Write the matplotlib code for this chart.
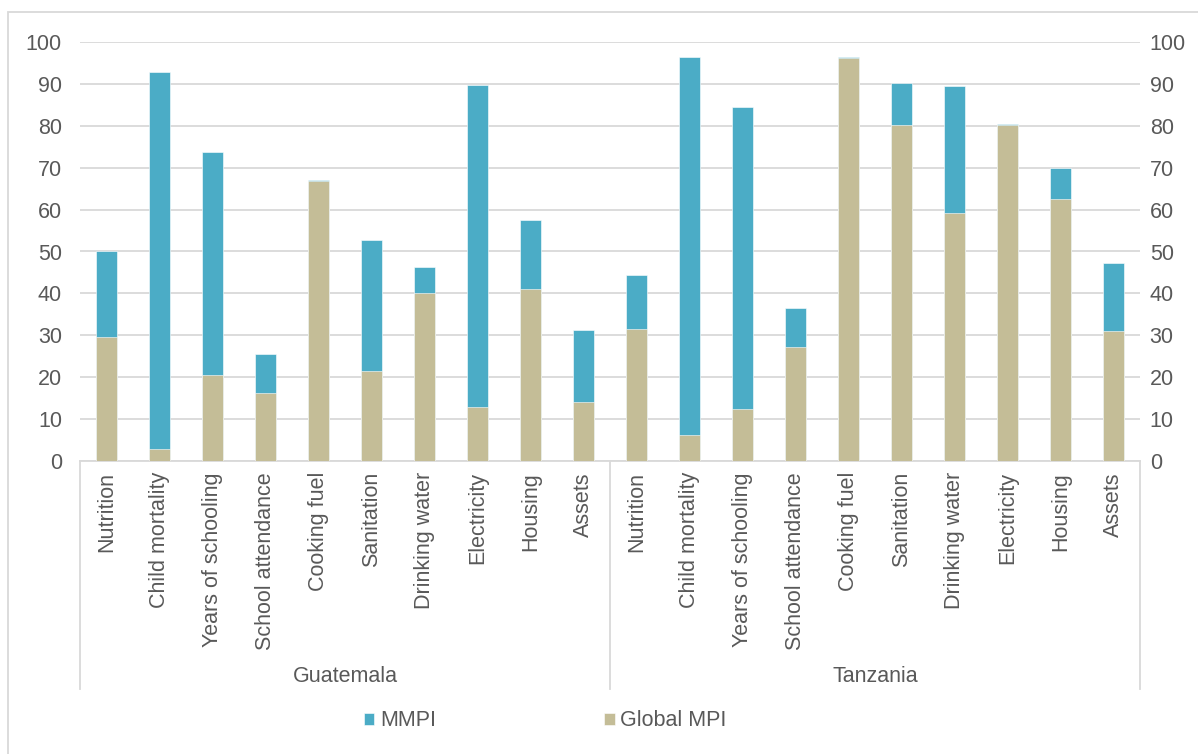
import numpy as np
import matplotlib.pyplot as plt
from matplotlib.lines import Line2D
from matplotlib.patches import Rectangle

plt.rcParams['font.family'] = ['Liberation Sans', 'DejaVu Sans']

# Datos
paises = ['Guatemala', 'Tanzania']
indicadores = ['Nutrition', 'Child mortality', 'Years of schooling', 'School attendance',
               'Cooking fuel', 'Sanitation', 'Drinking water', 'Electricity', 'Housing', 'Assets']
mmpi_guatemala = [50.2, 92.8, 73.8, 25.5, 67.0, 52.8, 46.2, 89.7, 57.5, 31.2]
global_guatemala = [29.5, 2.8, 20.5, 16.3, 66.8, 21.4, 40.2, 13.0, 41.0, 14.0]
mmpi_tanzania = [44.3, 96.4, 84.5, 36.5, 96.5, 90.2, 89.6, 80.5, 70.0, 47.3]
global_tanzania = [31.6, 6.3, 12.3, 27.1, 96.3, 80.1, 59.1, 80.1, 62.5, 31.0]

AZUL = '#4BACC6'
OCRE = '#C4BD97'
GRIS_TXT = '#595959'
GRIS_LIN = '#D9D9D9'
FS = 15.5

mmpi = mmpi_guatemala + mmpi_tanzania
glob = global_guatemala + global_tanzania
etiquetas = indicadores * len(paises)
x = np.arange(len(etiquetas))

fig = plt.figure(figsize=(11.98, 7.54), dpi=100)
ax = fig.add_axes([80 / 1198, 1 - 461 / 754, 1060 / 1198, 419 / 754])

ax.bar(x, mmpi, width=0.4, color=AZUL, edgecolor='white', linewidth=0.4, label='MMPI', zorder=2)
ax.bar(x, glob, width=0.4, color=OCRE, edgecolor='white', linewidth=0.4, label='Global MPI', zorder=3)

ax.set_xlim(-0.5, len(x) - 0.5)
ax.set_ylim(0, 100)
ax.set_yticks(range(0, 101, 10))
ax.yaxis.grid(True, color=GRIS_LIN, linewidth=1.3, zorder=0)
ax.set_axisbelow(True)
for s in ['top', 'left', 'right']:
    ax.spines[s].set_visible(False)
ax.spines['bottom'].set_color(GRIS_LIN)
ax.spines['bottom'].set_linewidth(1.3)

ax.set_xticks(x)
ax.set_xticklabels(etiquetas, rotation=90, fontsize=FS, color=GRIS_TXT, va='top')
ax.tick_params(axis='x', length=0, pad=8)
ax.tick_params(axis='y', length=0, pad=13, labelsize=FS, labelcolor=GRIS_TXT)

ax2 = ax.twinx()
ax2.set_ylim(0, 100)
ax2.set_yticks(range(0, 101, 10))
ax2.tick_params(axis='y', length=0, pad=7, labelsize=FS, labelcolor=GRIS_TXT)
for s in ax2.spines.values():
    s.set_visible(False)

# Separadores de grupos y nombres de paises
n = len(indicadores)
for i in range(len(paises) + 1):
    xs = i * n - 0.5
    ax.add_line(Line2D([xs, xs], [0, -54.5], color=GRIS_LIN, linewidth=1.3,
                       clip_on=False, transform=ax.transData))
for i, p in enumerate(paises):
    ax.text(i * n + (n - 1) / 2, -51.5, p, ha='center', va='center', fontsize=FS,
            color=GRIS_TXT, clip_on=False)

# Leyenda
fig.legend(loc='center', bbox_to_anchor=(545 / 1198, 1 - 721 / 754), ncol=2, frameon=False,
           fontsize=FS, labelcolor=GRIS_TXT, handlelength=0.5, handleheight=0.5,
           handletextpad=0.25, columnspacing=7.8)

# Marco exterior
fig.add_artist(Rectangle((8 / 1198, -0.1), 1.2, 1 - 12 / 754 + 0.1, transform=fig.transFigure,
                         fill=False, edgecolor=GRIS_LIN, linewidth=1.3))

fig.savefig('out.png', dpi=100)
plt.close(fig)
